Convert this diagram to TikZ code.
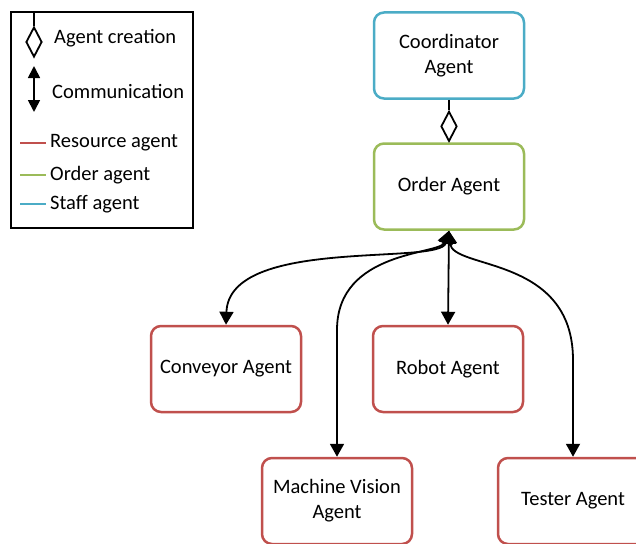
\documentclass[tikz,border=0pt]{standalone}
\usepackage{fontspec}
\setmainfont{Carlito}
\usetikzlibrary{arrows.meta,shapes.geometric}
\definecolor{resred}{HTML}{C0504D}
\definecolor{ordgreen}{HTML}{9BBB59}
\definecolor{stfblue}{HTML}{4BACC6}
\tikzset{
  agent/.style={draw, rounded corners=10pt, line width=2.5pt, minimum width=150pt, minimum height=86pt, align=center, font=\fontsize{20.5}{25}\selectfont, inner sep=2pt},
  res/.style={agent, draw=resred},
  comm/.style={line width=1.8pt, {Triangle[width=14pt,length=13pt]}-{Triangle[width=14pt,length=13pt]}},
  legtext/.style={anchor=west, font=\fontsize{20.5}{24}\selectfont, inner sep=0pt},
  diam/.style={diamond, draw, line width=1.8pt, fill=white, minimum width=16pt, minimum height=30pt, inner sep=0pt, aspect=0.5},
}
\begin{document}
\begin{tikzpicture}[x=1pt,y=-1pt]
\useasboundingbox (0,0) rectangle (636,543);
% legend
\node[draw, line width=1.2pt, minimum width=182pt, minimum height=216pt, inner sep=0pt] (legend) at (102,120) {};
\node[diam] (ld) at (34,42) {};
\draw[line width=1.8pt] (legend.north -| ld.north) -- (ld.north);
\node[legtext] (lt1) at (54,38) {Agent creation};
\coordinate (la1) at (34,66);
\coordinate (la2) at (34,112);
\draw[comm, {Triangle[width=12pt,length=12pt]}-{Triangle[width=12pt,length=12pt]}] (la1) -- (la2);
\node[legtext] (lt2) at (52,91) {Communication};
\node[legtext] (lt3) at (50,143) {Resource agent};
\node[legtext] (lt4) at (50,175) {Order agent};
\node[legtext] (lt5) at (50,204) {Staff agent};
\draw[resred, line width=2.5pt] (20,143) -- ([xshift=-4pt]lt3.west);
\draw[ordgreen, line width=2.5pt] (20,175) -- ([xshift=-4pt]lt4.west);
\draw[stfblue, line width=2.5pt] (20,204) -- ([xshift=-4pt]lt5.west);
% agents
\node[agent, draw=stfblue] (coord) at (449,55.5) {Coordinator\\Agent};
\node[agent, draw=ordgreen] (order) at (449,186.5) {Order Agent};
\node[res] (conv) at (226,369) {Conveyor Agent};
\node[res] (robot) at (448,369) {Robot Agent};
\node[res] (mv) at (337,501) {Machine Vision\\Agent};
\node[res] (tester) at (573,501) {Tester Agent};
% creation
\node[diam, anchor=south] (cd) at (order.north) {};
\draw[line width=1.8pt] (coord.south) -- (cd.north);
% communication
\draw[comm] (order.south) .. controls (440,266) and (229,236) .. (conv.north);
\draw[comm] (order.south) -- (robot.north);
\draw[comm] (order.south) .. controls (440,255) and (337,250) .. (337,330) -- (mv.north);
\draw[comm] (order.south) .. controls (452,270) and (573,255) .. (573,360) -- (tester.north);
\end{tikzpicture}
\end{document}
